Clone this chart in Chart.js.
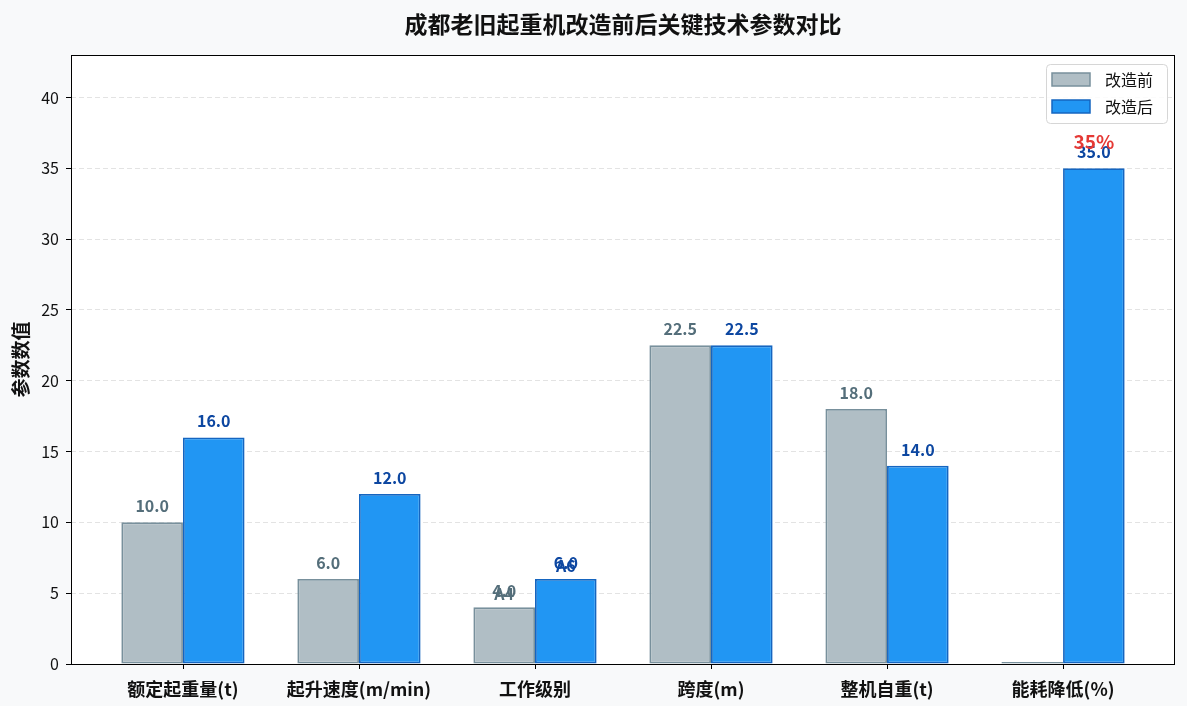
<!DOCTYPE html>
<html>
<head>
<meta charset="utf-8">
<script src="https://cdn.jsdelivr.net/npm/chart.js@4/dist/chart.umd.min.js"></script>
<style>
  html, body { margin: 0; padding: 0; background: #F8F9FA; }
  #wrap { width: 1187px; height: 706px; }
</style>
</head>
<body>
<div id="wrap"><canvas id="c" width="1187" height="706"></canvas></div>
<script>
// 数据
const categories = ["额定起重量(t)", "起升速度(m/min)", "工作级别", "跨度(m)", "整机自重(t)", "能耗降低(%)"];
const beforeValues = [10, 6, 4, 22.5, 18, 0];
const afterValues = [16, 12, 6, 22.5, 14, 35];
const beforeTags = [null, null, "A4", null, null, null];
const afterTags = [null, null, "A6", null, null, "35%"];
const seriesNames = ["改造前", "改造后"];
const yTicks = [0, 5, 10, 15, 20, 25, 30, 35, 40];

const FONT = "'Noto Sans CJK SC', 'Noto Sans', sans-serif";
const BG = "#F8F9FA";

// 背景 + 白色绘图区
const bgPlugin = {
  id: "bg",
  beforeDraw(chart) {
    const { ctx, chartArea: a } = chart;
    ctx.save();
    ctx.fillStyle = BG;
    ctx.fillRect(0, 0, chart.width, chart.height);
    ctx.fillStyle = "#ffffff";
    ctx.fillRect(a.left, a.top, a.right - a.left, a.bottom - a.top);
    ctx.restore();
  }
};

// 标题、数值标签、边框、图例
const decoPlugin = {
  id: "deco",
  afterDatasetsDraw(chart) {
    const ctx = chart.ctx;
    ctx.save();
    ctx.textAlign = "center";
    ctx.textBaseline = "alphabetic";
    const colors = ["#546E7A", "#0D47A1"];
    const tags = [beforeTags, afterTags];
    chart.data.datasets.forEach((ds, di) => {
      const meta = chart.getDatasetMeta(di);
      meta.data.forEach((bar, i) => {
        const v = ds.data[i].y;
        if (v > 0) {
          ctx.font = "bold 16px " + FONT;
          ctx.fillStyle = colors[di];
          ctx.fillText(v.toFixed(1), bar.x, bar.y - 10);
        }
        const t = tags[di][i];
        if (t) {
          if (t.endsWith("%")) {
            ctx.font = "bold 19px " + FONT;
            ctx.fillStyle = "#E53935";
            ctx.fillText(t, bar.x, bar.y - 19);
          } else {
            ctx.font = "bold 16px " + FONT;
            ctx.fillStyle = colors[di];
            ctx.fillText(t, bar.x, bar.y - 7);
          }
        }
      });
    });
    ctx.restore();
  },
  afterDraw(chart) {
    const { ctx, chartArea: a } = chart;
    const xs = chart.scales.x;
    ctx.save();
    // 边框
    ctx.strokeStyle = "#000";
    ctx.lineWidth = 1;
    ctx.strokeRect(a.left + 0.5, a.top + 0.5, a.right - a.left - 1, a.bottom - a.top);
    // x 轴刻度线
    ctx.beginPath();
    categories.forEach((c, i) => {
      const px = Math.round(xs.getPixelForValue(i)) + 0.5;
      ctx.moveTo(px, a.bottom);
      ctx.lineTo(px, a.bottom + 5);
    });
    ctx.stroke();
    // 标题
    ctx.fillStyle = "#111";
    ctx.font = "bold 23px " + FONT;
    ctx.textAlign = "center";
    ctx.textBaseline = "middle";
    ctx.fillText("成都老旧起重机改造前后关键技术参数对比", (a.left + a.right) / 2, 24);
    // 图例
    const bx = a.right - 129, by = a.top + 9, bw = 121, bh = 59;
    ctx.beginPath();
    ctx.roundRect(bx + 0.5, by + 0.5, bw, bh, 4);
    ctx.fillStyle = "rgba(255,255,255,0.85)";
    ctx.fill();
    ctx.strokeStyle = "#d6d6d6";
    ctx.stroke();
    chart.data.datasets.forEach((ds, di) => {
      const sy = by + 9 + di * 27;
      ctx.fillStyle = ds.backgroundColor;
      ctx.fillRect(bx + 6, sy, 38, 13);
      ctx.strokeStyle = ds.borderColor;
      ctx.lineWidth = 1.5;
      ctx.strokeRect(bx + 6, sy, 38, 13);
      ctx.fillStyle = "#111";
      ctx.font = "16px " + FONT;
      ctx.textAlign = "left";
      ctx.textBaseline = "middle";
      ctx.fillText(ds.label, bx + 59, sy + 7);
    });
    ctx.restore();
  }
};

const toPoints = vals => vals.map((v, i) => ({ x: i, y: v }));

new Chart(document.getElementById("c"), {
  type: "bar",
  data: {
    datasets: [
      {
        label: seriesNames[0],
        data: toPoints(beforeValues),
        backgroundColor: "#B0BEC5",
        borderColor: "#78909C",
        borderWidth: 1.8,
        borderSkipped: false,
        minBarLength: 2
      },
      {
        label: seriesNames[1],
        data: toPoints(afterValues),
        backgroundColor: "#2196F3",
        borderColor: "#1565C0",
        borderWidth: 1.8,
        borderSkipped: false
      }
    ]
  },
  options: {
    responsive: false,
    animation: false,
    layout: { padding: { top: 55, right: 12, bottom: 0, left: 0 } },
    datasets: { bar: { categoryPercentage: 0.7, barPercentage: 1.0 } },
    plugins: {
      legend: { display: false },
      title: { display: false },
      tooltip: { enabled: false }
    },
    scales: {
      x: {
        type: "linear",
        offset: false,
        min: -0.636,
        max: 5.636,
        afterBuildTicks: s => { s.ticks = categories.map((c, i) => ({ value: i })); },
        afterFit: s => { s.height = 42; },
        border: { display: false },
        grid: { display: false, drawTicks: true, tickLength: 5 },
        ticks: {
          padding: 9,
          autoSkip: false,
          maxRotation: 0,
          color: "#111",
          font: { family: FONT, size: 18, weight: "bold" },
          callback: v => categories[v] ?? ""
        }
      },
      y: {
        min: 0,
        max: 43,
        afterBuildTicks: s => { s.ticks = yTicks.map(v => ({ value: v })); },
        afterFit: s => { s.width = 71; },
        border: { display: false, dash: [5, 3] },
        grid: {
          color: "#e3e3e3",
          tickBorderDash: [],
          tickColor: "#000",
          tickLength: 5
        },
        ticks: {
          padding: 7,
          color: "#111",
          font: { family: FONT, size: 16 }
        },
        title: {
          display: true,
          text: "参数数值",
          color: "#111",
          padding: { top: 9, bottom: 0 },
          font: { family: FONT, size: 19, weight: "bold" }
        }
      }
    }
  },
  plugins: [bgPlugin, decoPlugin]
});
</script>
</body>
</html>
